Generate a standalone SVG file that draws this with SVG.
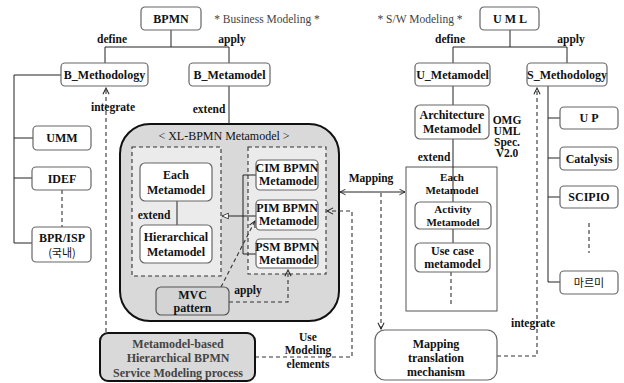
<svg xmlns="http://www.w3.org/2000/svg" width="624" height="383" viewBox="0 0 624 383">
<defs>
<style>
text{font-family:"Liberation Serif","Times New Roman","DejaVu Serif",serif;font-size:12px;font-weight:bold;fill:#111;text-anchor:middle}
.ko{font-family:"Noto Sans CJK KR","Liberation Serif",sans-serif;font-weight:normal;font-size:11px}
.sm{font-size:11px}
.box{fill:#fff;stroke:#666;stroke-width:1.2}
.ln{fill:none;stroke:#222;stroke-width:1}
.dash{fill:none;stroke:#333;stroke-width:1.1;stroke-dasharray:4 3}
.note{font-weight:normal;fill:#444;font-size:11.5px}
.lbl{font-size:11.5px}
</style>
<marker id="open" viewBox="0 0 10 10" refX="9" refY="5" markerWidth="7" markerHeight="7" orient="auto-start-reverse">
<path d="M1,1 L9,5 L1,9" fill="none" stroke="#222" stroke-width="1.3"/>
</marker>
<marker id="tri" viewBox="0 0 10 10" refX="9" refY="5" markerWidth="8" markerHeight="8" orient="auto">
<path d="M1,1.5 L9,5 L1,8.5 Z" fill="#fff" stroke="#222" stroke-width="1"/>
</marker>
</defs>

<!-- headers -->
<text class="note" x="267" y="23">* Business Modeling *</text>
<text class="note" x="420" y="23">* S/W Modeling *</text>

<!-- container for the extended BPMN metamodel -->
<g id="xl-bpmn-metamodel">
<rect x="120" y="124" width="219" height="197" rx="30" fill="#d9d9d9" stroke="#111" stroke-width="2"/>
<text x="224" y="140" style="font-weight:normal">&lt; XL-BPMN Metamodel &gt;</text>
<rect class="dash" x="132" y="147" width="89" height="129" style="fill:#ebebeb"/>
<rect class="dash" x="248" y="147" width="78" height="127" style="fill:#ebebeb"/>
</g>
<g id="uml-each-metamodel"><rect x="406" y="167" width="91" height="144" fill="none" stroke="#555" stroke-width="1"/></g>

<!-- connectors -->
<g id="connectors">
<path class="ln" d="M171,30 V47 M105,47 H229 M105,47 V63 M229,47 V63"/>
<path class="ln" d="M510,30 V47 M453,47 H567 M453,47 V63 M567,47 V63"/>
<path class="ln" d="M229,86 V124"/>
<path class="ln" d="M61,75 H14 V243 H32 M14,138 H33 M14,178 H32"/>
<path class="dash" d="M62,190 V227"/>
<path class="ln" d="M453,86 V105 M453,139 V202 M453,229 V243"/>
<path class="dash" d="M451,272 V307"/>
<path class="ln" d="M548,86 V282 H560 M548,118 H560 M548,158 H560 M548,197 H560"/>
<path class="dash" d="M589,223 V253"/>
<path class="ln" d="M177,201 V225"/>
<path class="ln" d="M256,175 H243 V254 H256 M243,216 H256"/>
<path class="ln" d="M243,216 H222" marker-end="url(#tri)"/>
<path class="dash" d="M221,287 L255,221" marker-end="url(#open)"/>
<path class="dash" d="M229,302 H288 V270" marker-end="url(#open)"/>
<path class="ln" d="M340,192 H405" marker-start="url(#open)" marker-end="url(#open)"/>
<path class="dash" d="M381,193 V329" marker-end="url(#open)"/>
<path class="dash" d="M255,357 H352 V211 H327" marker-end="url(#open)"/>
<path class="dash" d="M106,332 V88" marker-end="url(#open)"/>
<path class="dash" d="M497,356 H537 V88" marker-end="url(#open)"/>
</g>

<!-- connector labels -->
<text class="lbl" x="112" y="43">define</text>
<text class="lbl" x="232" y="43">apply</text>
<text class="lbl" x="450" y="43">define</text>
<text class="lbl" x="571" y="43">apply</text>
<text class="lbl" x="209" y="113">extend</text>
<text class="lbl" x="113" y="111">integrate</text>
<text class="lbl" x="434" y="161">extend</text>
<text class="lbl" x="154" y="219">extend</text>
<text class="lbl" x="248" y="294">apply</text>
<text class="lbl" x="371" y="182">Mapping</text>
<text class="lbl" x="308" y="341">Use</text>
<text class="lbl" x="308" y="354">Modeling</text>
<text class="lbl" x="308" y="368">elements</text>
<text class="lbl" x="533" y="327">integrate</text>
<text class="lbl" x="507" y="124">OMG</text>
<text class="lbl" x="507" y="135">UML</text>
<text class="lbl" x="507" y="146">Spec.</text>
<text class="lbl" x="507" y="157">V2.0</text>
<text class="sm" x="452" y="181">Each</text>
<text class="sm" x="452" y="194">Metamodel</text>

<g id="bpmn"><rect class="box" x="141" y="7" width="60" height="23" rx="4"/><text x="171" y="23">BPMN</text></g>
<g id="uml"><rect class="box" x="480" y="7" width="59" height="23" rx="4"/><text x="510" y="23">U M L</text></g>
<g id="b-methodology"><rect class="box" x="61" y="63" width="87" height="23" rx="4"/><text x="104.5" y="79">B_Methodology</text></g>
<g id="b-metamodel"><rect class="box" x="189" y="63" width="81" height="23" rx="4"/><text x="229.5" y="79">B_Metamodel</text></g>
<g id="u-metamodel"><rect class="box" x="415" y="63" width="75" height="23" rx="4"/><text x="452.5" y="79">U_Metamodel</text></g>
<g id="s-methodology"><rect class="box" x="527" y="63" width="80" height="23" rx="4"/><text x="567" y="79">S_Methodology</text></g>

<g id="umm"><rect class="box" x="33" y="126" width="58" height="24" rx="4"/><text x="62" y="142">UMM</text></g>
<g id="idef"><rect class="box" x="32" y="167" width="59" height="23" rx="4"/><text x="62" y="183">IDEF</text></g>
<g id="bpr-isp"><rect class="box" x="32" y="227" width="59" height="35" rx="4"/><text x="62" y="242">BPR/ISP</text><text class="ko" x="62" y="257">(국내)</text></g>

<g id="each-metamodel"><rect class="box" x="140" y="163" width="72" height="38" rx="5"/><text x="176" y="179">Each</text><text x="176" y="194">Metamodel</text></g>
<g id="hierarchical-metamodel"><rect class="box" x="140" y="225" width="72" height="38" rx="5"/><text x="176" y="241">Hierarchical</text><text x="176" y="256">Metamodel</text></g>
<g id="cim"><rect class="box" x="256" y="160" width="62" height="30" rx="4"/><text x="287" y="172">CIM BPMN</text><text x="288" y="185">Metamodel</text></g>
<g id="pim"><rect class="box" x="256" y="200" width="62" height="30" rx="4"/><text x="287" y="212">PIM BPMN</text><text x="288" y="225">Metamodel</text></g>
<g id="psm"><rect class="box" x="256" y="239" width="62" height="29" rx="4"/><text x="287" y="251">PSM BPMN</text><text x="288" y="264">Metamodel</text></g>
<g id="mvc"><rect x="156" y="287" width="73" height="28" rx="5" fill="#d4d4d4" stroke="#555" stroke-width="1.2"/><text x="192.5" y="299">MVC</text><text x="192.5" y="312">pattern</text></g>

<g id="process"><rect x="100" y="333" width="155" height="48" rx="8" fill="#d9d9d9" stroke="#111" stroke-width="2"/>
<text x="178" y="348" style="fill:#444">Metamodel-based</text><text x="178" y="362" style="fill:#444">Hierarchical BPMN</text><text x="178" y="377" style="fill:#444">Service Modeling process</text></g>

<g id="architecture-metamodel"><rect class="box" x="415" y="105" width="74" height="34" rx="5"/><text x="452" y="119">Architecture</text><text x="452" y="133">Metamodel</text></g>
<g id="activity-metamodel"><rect class="box" x="415" y="202" width="76" height="27" rx="5"/><text class="sm" x="453" y="213">Activity</text><text class="sm" x="453" y="226">Metamodel</text></g>
<g id="usecase-metamodel"><rect class="box" x="415" y="243" width="75" height="29" rx="5"/><text x="452.5" y="255">Use case</text><text x="452.5" y="268">metamodel</text></g>

<g id="up"><rect class="box" x="560" y="107" width="58" height="22" rx="4"/><text x="589" y="122">U P</text></g>
<g id="catalysis"><rect class="box" x="560" y="147" width="58" height="23" rx="4"/><text x="589" y="163">Catalysis</text></g>
<g id="scipio"><rect class="box" x="560" y="186" width="58" height="22" rx="4"/><text x="589" y="201">SCIPIO</text></g>
<g id="marmi"><rect class="box" x="560" y="271" width="58" height="23" rx="4"/><text class="ko" x="589" y="287">마르미</text></g>

<g id="mapping-translation"><rect class="box" x="375" y="330" width="122" height="50" rx="10"/><text x="436" y="348">Mapping</text><text x="436" y="362">translation</text><text x="436" y="376">mechanism</text></g>
</svg>
